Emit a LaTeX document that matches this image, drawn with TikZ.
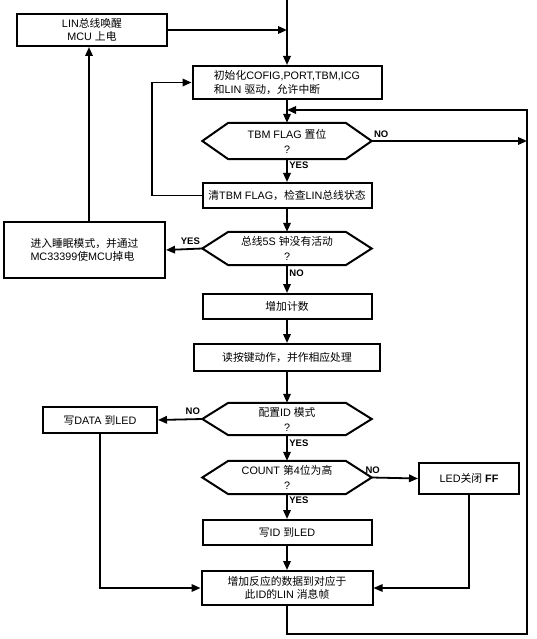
\documentclass[tikz,border=0pt]{standalone}
\usepackage{fontspec}
\setmainfont{Liberation Sans}
\newfontfamily\cjk{Noto Sans CJK SC}
\usetikzlibrary{arrows.meta}
\newcommand\C[1]{{\cjk #1}}
\newcommand\hexdraw[1]{\draw[hexline] (#1.west) -- ([xshift=26pt]#1.north west) -- ([xshift=-26pt]#1.north east) -- (#1.east) -- ([xshift=-26pt]#1.south east) -- ([xshift=26pt]#1.south west) -- cycle;}
\tikzset{
  box/.style={draw, line width=2pt, inner sep=1pt, align=center, font=\fontsize{10.8}{13.5}\selectfont},
  boxl/.style={box, align=left},
  hexline/.style={line width=2pt, line join=miter},
  dec/.style={inner sep=0pt, align=center, minimum width=169pt, font=\fontsize{10.8}{15}\selectfont},
  arr/.style={line width=1.8pt, -{Triangle[length=9pt,width=7.5pt]}},
  lbl/.style={font=\fontsize{9.5}{10}\selectfont\bfseries, inner sep=1.5pt},
}
\begin{document}
\begin{tikzpicture}[x=1pt,y=-1pt]
\useasboundingbox[fill=white] (0,0) rectangle (537,639);
% nodes
\node[box, minimum width=150pt, minimum height=32pt] (wake) at (92,30) {LIN\C{总线唤醒}\\MCU \C{上电}};
\node[boxl, minimum width=189pt, minimum height=33pt] (init) at (287,82.5) {\C{初始化}COFIG,PORT,TBM,ICG\\\C{和}LIN \C{驱动，允许中断}};
\node[dec, minimum height=36pt] (d1) at (287,141) {TBM FLAG \C{置位}\\?};
\node[box, minimum width=169pt, minimum height=25pt] (clr) at (287,195.5) {\C{清}TBM FLAG\C{，检查}LIN\C{总线状态}};
\node[dec, minimum height=33pt] (d2) at (287,248.5) {\C{总线}5S \C{钟没有活动}\\?};
\node[boxl, minimum width=161pt, minimum height=56pt] (sleep) at (84.5,250) {\C{进入睡眠模式，并通过}\\MC33399\C{使}MCU\C{掉电}};
\node[box, minimum width=169pt, minimum height=25pt] (cnt) at (287,306.5) {\C{增加计数}};
\node[box, minimum width=186pt, minimum height=27pt] (key) at (287,357.5) {\C{读按键动作，并作相应处理}};
\node[dec, minimum height=32pt] (d3) at (287,419) {\C{配置}ID \C{模式}\\?};
\node[box, minimum width=114pt, minimum height=26pt] (data) at (100,420) {\C{写}DATA \C{到}LED};
\node[dec, minimum height=33pt] (d4) at (287,477.5) {COUNT \C{第}4\C{位为高}\\?};
\node[box, minimum width=100pt, minimum height=31pt] (led) at (469,478.5) {LED\C{关闭} \textbf{FF}};
\node[box, minimum width=169pt, minimum height=25pt] (wid) at (287,532.5) {\C{写}ID \C{到}LED};
\node[box, minimum width=171pt, minimum height=34pt] (frame) at (287,588) {\C{增加反应的数据到对应于}\\\C{此}ID\C{的}LIN \C{消息帧}};
\hexdraw{d1}
\hexdraw{d2}
\hexdraw{d3}
\hexdraw{d4}
% helper coordinates
\coordinate (top) at (287,0);
\coordinate (lx) at (152,0);
\coordinate (rt) at (527,110);
\coordinate (rb) at (527,634);
\coordinate (mj) at (287,110);
% connectors
\draw[arr] (top) -- (init.north);
\draw[arr] (wake.east) -- (wake.east -| top);
\draw[arr] (init.south) -- (d1.north);
\draw[arr] (frame.south) |- (rb) -- (rt) -- (mj);
\draw[arr] (d1.east) -- node[lbl, pos=0, above right, yshift=1pt]{NO} (d1.east -| rt);
\draw[arr] (d1.south) -- node[lbl, pos=0.27, right]{YES} (clr.north);
\draw[arr] (clr.west) -- (clr.west -| lx) |- (init.west);
\draw[arr] (clr.south) -- (d2.north);
\draw[arr] (d2.west) -- node[lbl, pos=0, above left, yshift=2pt]{YES} (sleep.east);
\draw[arr] ([xshift=4.5pt]sleep.north) -- ([xshift=4.5pt]sleep.north |- wake.south);
\draw[arr] (d2.south) -- node[lbl, pos=0.3, right]{NO} (cnt.north);
\draw[arr] (cnt.south) -- (key.north);
\draw[arr] (key.south) -- (d3.north);
\draw[arr] (d3.west) -- node[lbl, pos=0, above left, yshift=2pt]{NO} (data.east);
\draw[arr] (d3.south) -- node[lbl, pos=0.3, right]{YES} (d4.north);
\draw[arr] (d4.east) -- node[lbl, pos=0, above, xshift=1pt, yshift=2pt]{NO} (led.west);
\draw[arr] (d4.south) -- node[lbl, pos=0.25, right]{YES} (wid.north);
\draw[arr] (wid.south) -- (frame.north);
\draw[arr] (data.south) |- (frame.west);
\draw[arr, line width=1.3pt] (led.south) |- (frame.east);
\end{tikzpicture}
\end{document}
